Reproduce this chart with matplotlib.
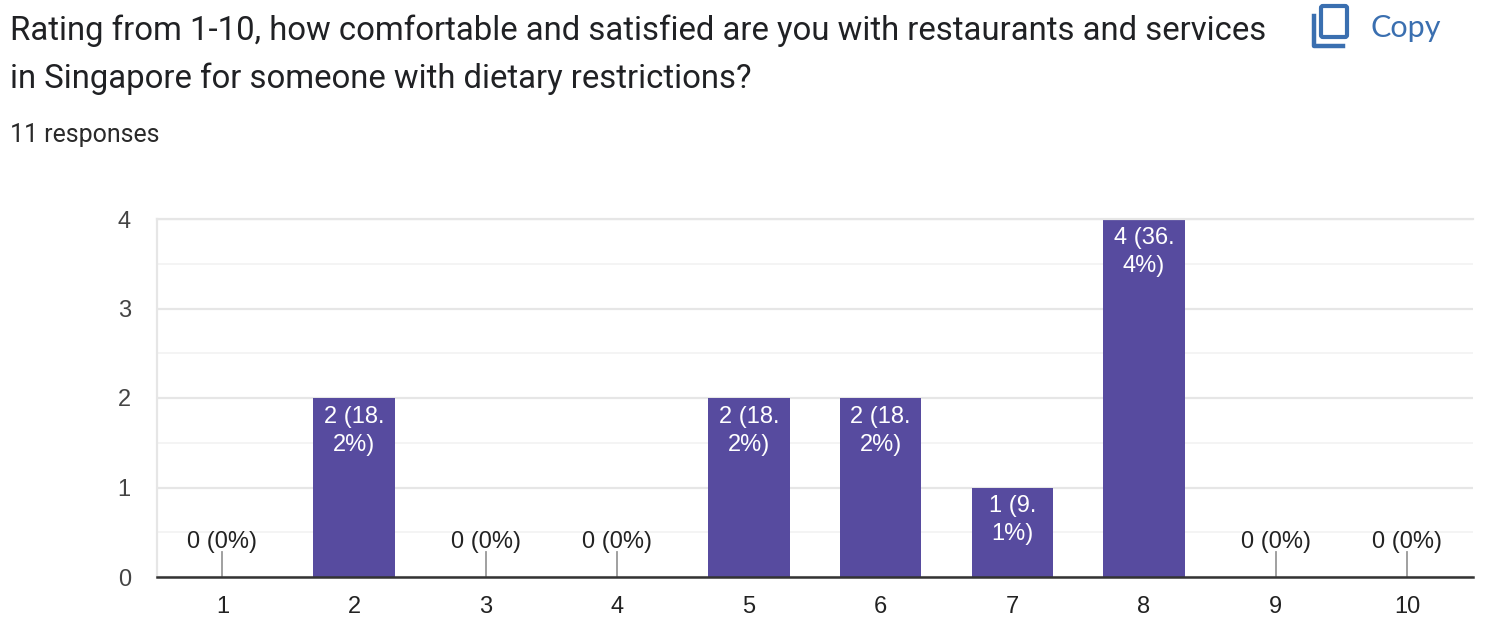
import matplotlib
matplotlib.use('Agg')
import matplotlib.pyplot as plt
from matplotlib.patches import FancyBboxPatch

ratings = [1, 2, 3, 4, 5, 6, 7, 8, 9, 10]
counts = [0, 2, 0, 0, 2, 2, 1, 4, 0, 0]
bar_labels = ["0 (0%)", "2 (18.\n2%)", "0 (0%)", "0 (0%)", "2 (18.\n2%)",
              "2 (18.\n2%)", "1 (9.\n1%)", "4 (36.\n4%)", "0 (0%)", "0 (0%)"]
y_ticks = [0, 1, 2, 3, 4]
y_minor = [0.5, 1.5, 2.5, 3.5]
title_lines = ["Rating from 1-10, how comfortable and satisfied are you with restaurants and services",
               "in Singapore for someone with dietary restrictions?"]
subtitle = "11 responses"

W, H = 1490, 640
PURPLE = "#574b9f"
BLUE = "#3a6fb0"

fig = plt.figure(figsize=(W / 100, H / 100), dpi=100, facecolor="white")


def fx(px):
    return px / W


def fy(py):
    return 1 - py / H


# Header text
fig.text(fx(10), fy(31), title_lines[0], family="Roboto", fontsize=23.65, color="#202124", va="center")
fig.text(fx(10), fy(79), title_lines[1], family="Roboto", fontsize=23.65, color="#202124", va="center")
fig.text(fx(10), fy(135), subtitle, family="Roboto", fontsize=17.9, color="#2a2a2a", va="center")
fig.text(fx(1371), fy(28), "Copy", family="Lato", fontsize=22, color=BLUE, va="center")

# Copy icon, drawn in pixel coordinates
icon = fig.add_axes([0, 0, 1, 1], zorder=3)
icon.set_xlim(0, W)
icon.set_ylim(H, 0)
icon.axis("off")
icon.add_patch(FancyBboxPatch((1321, 6), 26, 31, boxstyle="round,pad=0,rounding_size=2",
                              fill=False, edgecolor=BLUE, linewidth=3))
icon.plot([1313.5, 1313.5, 1343], [16, 45.5, 45.5], color=BLUE, linewidth=3.2, solid_joinstyle="round")

# Chart
ax = fig.add_axes([fx(156.5), fy(577), fx(1473) - fx(156.5), fy(219) - fy(577)])
ax.set_xlim(0.5, 10.5)
ax.set_ylim(0, 4)
ax.set_axisbelow(True)

ax.set_yticks(y_ticks)
ax.set_yticks(y_minor, minor=True)
ax.grid(True, axis="y", which="major", color="#e6e6e6", linewidth=1.6)
ax.grid(True, axis="y", which="minor", color="#f3f3f3", linewidth=1.3)

ax.bar(ratings, counts, width=0.618, color=PURPLE, zorder=2)

for r, c, label in zip(ratings, counts, bar_labels):
    if c == 0:
        ax.plot([r, r], [0, 0.28], color="#999999", linewidth=1.3, zorder=2)
        ax.annotate(label, (r, 0), xytext=(0, 25), textcoords="offset points",
                    ha="center", va="center", family="Liberation Sans",
                    fontsize=17, color="#222222")
    else:
        ax.annotate(label, (r, c), xytext=(0, -23.5), textcoords="offset points",
                    ha="center", va="center", family="Liberation Sans",
                    fontsize=17, color="white", linespacing=1.36)

ax.spines["right"].set_visible(False)
ax.spines["top"].set_color("#e6e6e6")
ax.spines["top"].set_linewidth(1.6)
ax.spines["left"].set_color("#e6e6e6")
ax.spines["left"].set_linewidth(1.6)
ax.spines["bottom"].set_color("#333333")
ax.spines["bottom"].set_linewidth(1.8)
ax.spines["bottom"].set_zorder(4)

ax.set_xticks(ratings)
ax.tick_params(axis="both", which="both", length=0)
ax.tick_params(axis="x", pad=14)
ax.tick_params(axis="y", pad=18.5)
for t in ax.get_xticklabels():
    t.set_family("Liberation Sans")
    t.set_fontsize(17)
    t.set_color("#222222")
for t in ax.get_yticklabels():
    t.set_family("Liberation Sans")
    t.set_fontsize(17)
    t.set_color("#444444")

fig.savefig("out.png", dpi=100)
